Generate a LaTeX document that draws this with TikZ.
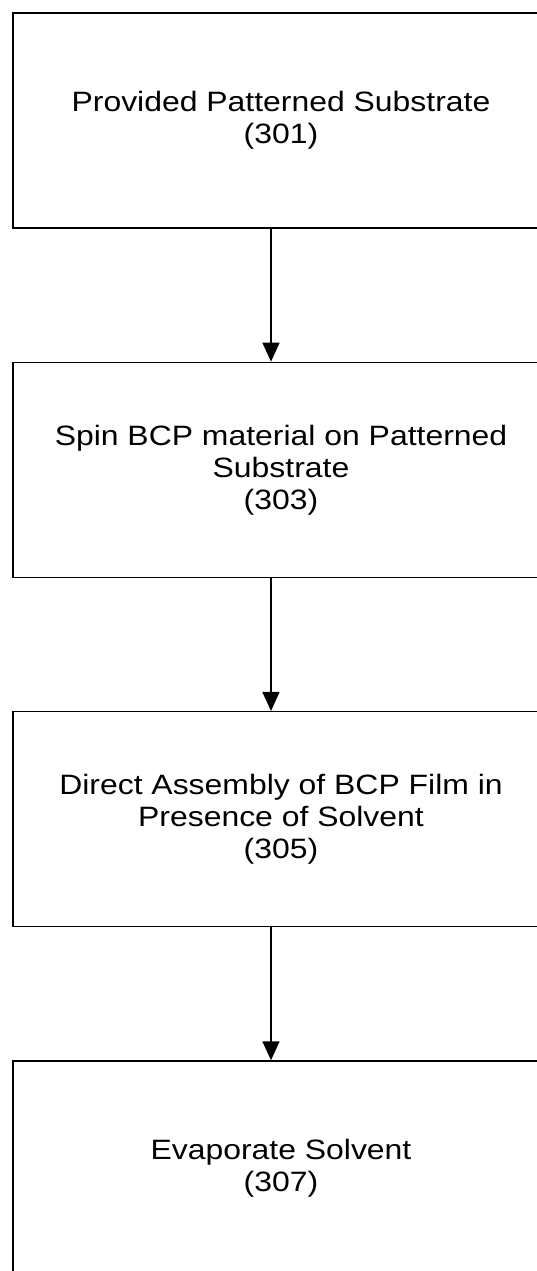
\documentclass[tikz,border=0pt]{standalone}
\usepackage{fontspec}
\setmainfont{Liberation Sans}[FakeStretch=1.14]
\usepackage{tikz}
\usetikzlibrary{chains,positioning,arrows.meta}

\begin{document}
\begin{tikzpicture}[
stepbox/.style={
	draw, rectangle, line width=1.3pt,
	minimum width=536pt, minimum height=215pt,
	align=center, font=\fontsize{28}{32}\selectfont,
	inner sep=0pt, text=black
},
>={Triangle[length=19pt,width=17pt]},
start chain=going below, node distance=133pt
]
\useasboundingbox (-281pt,120.5pt) rectangle (256pt,-1150.5pt);
\clip (-281pt,120.5pt) rectangle (256pt,-1150.5pt);
\node[stepbox,on chain] (1) {Provided Patterned Substrate\\(301)};
\node[stepbox,on chain] (2) {Spin BCP material on Patterned\\Substrate\\(303)};
\node[stepbox,on chain] (3) {Direct Assembly of BCP Film in\\Presence of Solvent\\(305)};
\node[stepbox,on chain] (4) {Evaporate Solvent\\(307)};
\foreach \i in {1,...,3}
{
	\pgfmathsetmacro\next{int(\i + 1)}
	\draw[->, line width=1.6pt] ([xshift=-10pt]\i.south) -- ([xshift=-10pt]\next .north);
}
\end{tikzpicture}
\end{document}
